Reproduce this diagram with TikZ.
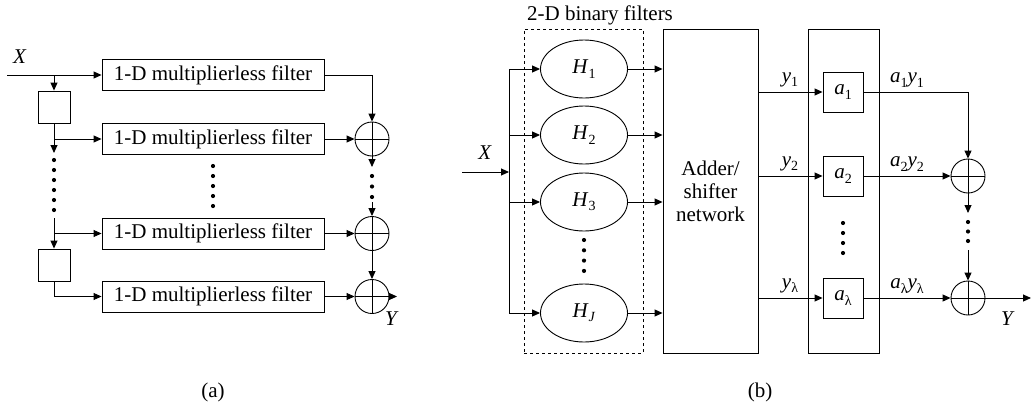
\documentclass[tikz,border=0pt]{standalone}
\usepackage{fontspec}
\setmainfont{Liberation Serif}
\usetikzlibrary{arrows.meta,shapes.geometric}
\newcommand{\sbs}[1]{\raisebox{-0.45ex}{\fontsize{14}{14}\selectfont #1}}
\newcommand{\iv}[1]{\textit{#1}}
\tikzset{
  every node/.style={font=\fontsize{21}{23}\selectfont},
  ln/.style={line width=0.9pt},
  arr/.style={ln,-{Triangle[length=8pt,width=7pt]}},
  filt/.style={draw,ln,minimum width=222pt,minimum height=31pt,inner sep=0pt},
  dly/.style={draw,ln,minimum width=32pt,minimum height=32pt,inner sep=0pt},
  adder/.style={draw,ln,circle,minimum size=34pt,inner sep=0pt,
    path picture={\draw[ln] (path picture bounding box.north) -- (path picture bounding box.south);
                  \draw[ln] (path picture bounding box.west) -- (path picture bounding box.east);}},
  hell/.style={draw,ln,ellipse,minimum width=87pt,minimum height=58pt,inner sep=0pt},
  coef/.style={draw,ln,minimum width=40pt,minimum height=40pt,inner sep=0pt},
  dot/.style={fill,circle,inner sep=0pt,minimum size=4.2pt},
  lbl/.style={inner sep=0pt}
}
\begin{document}
\begin{tikzpicture}[x=1pt,y=-1pt]
\useasboundingbox (0,0) rectangle (1032,410);
% ---------------- (a) ----------------
\coordinate (Xa) at (7,75);
\node[lbl] (XaL) at (20,57) {\iv{X}};
\node[filt] (f1) at (213,75) {1-D multiplierless filter};
\node[filt] (f2) at (213,139) {1-D multiplierless filter};
\node[filt] (f3) at (213,233.5) {1-D multiplierless filter};
\node[filt] (f4) at (213,296.5) {1-D multiplierless filter};
\node[dly] (d1) at (54,107) {};
\node[dly] (d2) at (54,265) {};
\node[adder] (s1) at (372,139) {};
\node[adder] (s2) at (372,233.5) {};
\node[adder] (s3) at (372,296.5) {};
\coordinate (ja) at (54,75);
\coordinate (jb) at (54,139);
\coordinate (jc) at (54,153);
\coordinate (jd) at (54,218);
\coordinate (je) at (54,233.5);
\coordinate (sa) at (372,167);
\coordinate (sb) at (372,202);
\coordinate (Ya) at (397,296.5);
\draw[arr] (Xa) -- (f1.west);
\draw[arr] (ja) -- (d1.north);
\draw[arr] (d1.south) |- (f2.west);
\draw[arr] (jb) -- (jc);
\draw[arr] (jd) -- (d2.north);
\draw[arr] (je) -- (f3.west);
\draw[arr] (d2.south) |- (f4.west);
\draw[arr] (f1.east) -| (s1.north);
\draw[arr] (f2.east) -- (s1.west);
\draw[arr] (f3.east) -- (s2.west);
\draw[arr] (f4.east) -- (s3.west);
\draw[arr] (s1.south) -- (sa);
\draw[arr] (sb) -- (s2.north);
\draw[arr] (s2.south) -- (s3.north);
\draw[arr] (s3.east) -- (Ya);
\node[lbl] (YaL) at (392,319) {\iv{Y}};
\foreach \i in {0,...,5} \node[dot] (la\i) at (54,160+10*\i) {};
\foreach \i in {0,...,4} \node[dot] (ma\i) at (213,166+10*\i) {};
\foreach \i in {0,...,2} \node[dot] (ra\i) at (372,176+10.5*\i) {};
\node[lbl] (capa) at (213,392) {(a)};
% ---------------- (b) ----------------
\node[lbl] (title) at (600,15) {2-D binary filters};
\node[draw,ln,dashed,minimum width=119pt,minimum height=324pt,inner sep=0pt] (dbox) at (583.5,191) {};
\node[hell] (h1) at (584,69) {\iv{H}\sbs{1}};
\node[hell] (h2) at (584,135) {\iv{H}\sbs{2}};
\node[hell] (h3) at (584,202) {\iv{H}\sbs{3}};
\node[hell] (hj) at (584,313) {\iv{H}\sbs{\iv{J}}};
\node[draw,ln,minimum width=95pt,minimum height=324pt,inner sep=0pt,align=center] (net) at (710.5,191) {Adder/\\shifter\\network};
\node[draw,ln,minimum width=71pt,minimum height=324pt,inner sep=0pt] (cb) at (843.5,191) {};
\node[coef] (a1) at (843,92) {\iv{a}\sbs{1}};
\node[coef] (a2) at (843,176) {\iv{a}\sbs{2}};
\node[coef] (al) at (843,298) {\iv{a}\sbs{λ}};
\node[adder] (b1) at (968,176) {};
\node[adder] (b2) at (968,298) {};
\coordinate (Xb) at (462,172);
\coordinate (bus) at (509,172);
\coordinate (bt) at (509,69);
\coordinate (bb) at (509,313);
\draw[ln] (bt) -- (bb);
\node[lbl] (XbL) at (485,153) {\iv{X}};
\draw[arr] (Xb) -- (bus);
\foreach \h in {h1,h2,h3,hj} {
  \draw[arr] (bt |- \h) -- (\h.west);
  \draw[arr] (\h.east) -- (\h.east -| net.west);
}
\foreach \a in {a1,a2,al} \draw[arr] (net.east |- \a) -- (\a.west);
\node[lbl] (y1) at (790,80) {\iv{y}\sbs{1}};
\node[lbl] (y2) at (790,164) {\iv{y}\sbs{2}};
\node[lbl] (yl) at (790,286) {\iv{y}\sbs{λ}};
\draw[arr] (a1.east) -| (b1.north);
\draw[arr] (a2.east) -- (b1.west);
\draw[arr] (al.east) -- (b2.west);
\node[lbl] (p1) at (907,80) {\iv{a}\sbs{1}\iv{y}\sbs{1}};
\node[lbl] (p2) at (907,164) {\iv{a}\sbs{2}\iv{y}\sbs{2}};
\node[lbl] (pl) at (907,286) {\iv{a}\sbs{λ}\iv{y}\sbs{λ}};
\coordinate (ta) at (968,213);
\coordinate (tb) at (968,250);
\draw[arr] (b1.south) -- (ta);
\draw[arr] (tb) -- (b2.north);
\coordinate (Yb) at (1031,298);
\draw[arr] (b2.east) -- (Yb);
\node[lbl] (YbL) at (1008,319) {\iv{Y}};
\foreach \i in {0,...,3} \node[dot] (hd\i) at (584,240+10.3*\i) {};
\foreach \i in {0,...,3} \node[dot] (cd\i) at (843,223+10*\i) {};
\foreach \i in {0,...,2} \node[dot] (bd\i) at (968,222+9.5*\i) {};
\node[lbl] (capb) at (760,392) {(b)};
\end{tikzpicture}
\end{document}
